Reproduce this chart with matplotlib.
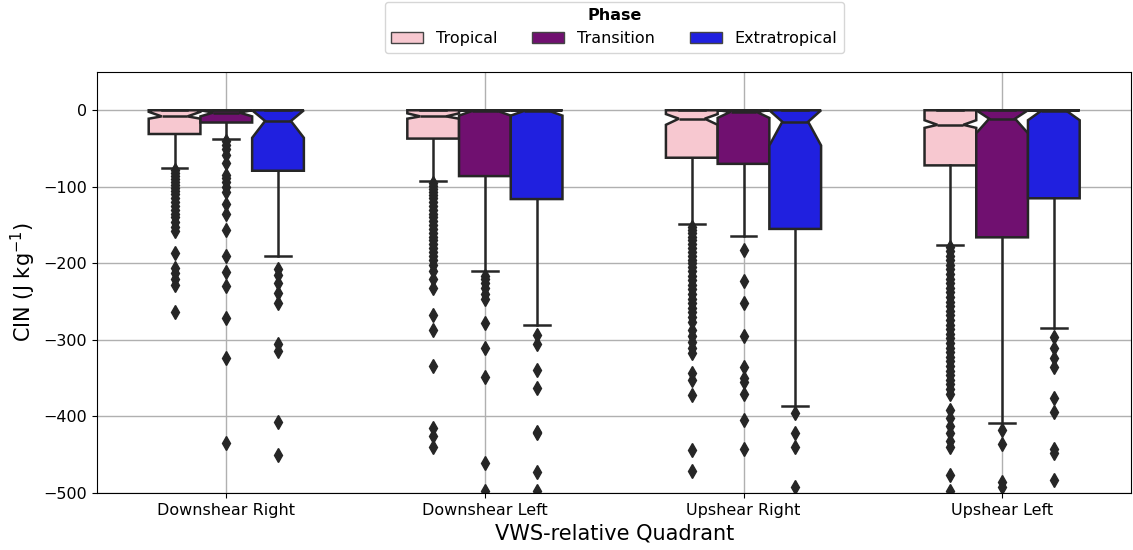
import matplotlib.pyplot as plt

# catégories et phases
quadrants = ['Downshear Right', 'Downshear Left', 'Upshear Right', 'Upshear Left']
phases = ['Tropical', 'Transition', 'Extratropical']
colors = ['#F7C8D0', '#701070', '#2020DF']

# statistiques : [quadrant][phase]
med = [[-8, -3, -14], [-8, -1, -1], [-11, -2, -15], [-19, -11, -1]]
q1 = [[-31, -16, -79], [-37, -86, -116], [-62, -70, -155], [-72, -166, -115]]
q3 = [[0, 0, 0], [0, 0, 0], [0, 0, 0], [0, 0, 0]]
ci_lo = [[-11, -8, -36], [-11, -7, -7], [-19, -10, -46], [-23, -30, -13]]
ci_hi = [[-2, 0, 0], [-4, 0, 0], [-5, 0, 0], [-13, 0, 0]]
whis_lo = [[-75, -37, -191], [-93, -210, -280], [-149, -164, -386], [-176, -408, -285]]
whis_hi = [[0, 0, 0], [0, 0, 0], [0, 0, 0], [0, 0, 0]]

fliers = [
    [[-78, -82, -86, -90, -94, -98, -102, -106, -110, -115, -120, -125, -130, -135,
      -140, -146, -152, -158, -187, -206, -212, -220, -228, -264],
     [-40, -46, -50, -58, -69, -85, -89, -94, -100, -107, -122, -135, -157, -191,
      -211, -229, -271, -324, -435],
     [-207, -215, -226, -239, -252, -305, -315, -407, -450]],
    [[-95, -99, -103, -107, -111, -115, -120, -125, -130, -135, -140, -145, -150,
      -155, -160, -165, -170, -175, -180, -185, -190, -196, -202, -210, -220, -232,
      -268, -287, -334, -415, -426, -440],
     [-216, -220, -225, -232, -240, -246, -278, -311, -348, -461, -498],
     [-294, -305, -339, -363, -420, -422, -472, -498]],
    [[-152, -156, -160, -165, -170, -175, -180, -185, -190, -195, -200, -205, -210,
      -216, -222, -228, -234, -240, -246, -252, -258, -264, -270, -276, -287, -295,
      -303, -310, -317, -343, -352, -372, -444, -471],
     [-183, -223, -252, -295, -336, -350, -355, -370, -405, -442],
     [-396, -421, -440, -492]],
    [[-178, -184, -190, -196, -202, -208, -214, -220, -226, -232, -238, -244, -250,
      -256, -262, -268, -274, -280, -286, -292, -298, -304, -310, -316, -322, -328,
      -334, -340, -346, -352, -358, -364, -370, -392, -402, -412, -422, -432, -440,
      -477, -498],
     [-418, -436, -485, -492],
     [-296, -311, -324, -335, -376, -394, -442, -448, -483]],
]

fig = plt.figure(figsize=(11.33, 5.5), dpi=100)
ax = fig.add_axes([0.0856, 0.1036, 0.913, 0.7655])

line_col = '#262626'
offsets = [-0.2, 0.0, 0.2]

for i in range(len(quadrants)):
    for j in range(len(phases)):
        stats = [{
            'med': med[i][j], 'q1': q1[i][j], 'q3': q3[i][j],
            'cilo': ci_lo[i][j], 'cihi': ci_hi[i][j],
            'whislo': whis_lo[i][j], 'whishi': whis_hi[i][j],
            'fliers': fliers[i][j],
        }]
        ax.bxp(stats, positions=[i + offsets[j]], widths=0.2, capwidths=0.1,
               shownotches=True, patch_artist=True, manage_ticks=False,
               boxprops=dict(facecolor=colors[j], edgecolor=line_col, linewidth=1.8),
               medianprops=dict(color=line_col, linewidth=1.8),
               whiskerprops=dict(color=line_col, linewidth=1.8),
               capprops=dict(color=line_col, linewidth=1.8),
               flierprops=dict(marker='d', markerfacecolor=line_col,
                               markeredgecolor=line_col, markersize=7.5))

ax.set_xlim(-0.5, 3.5)
ax.set_ylim(-500, 50)
ax.set_xticks(range(len(quadrants)))
ax.set_xticklabels(quadrants, fontsize=11.5)
ax.set_yticks([0, -100, -200, -300, -400, -500])
ax.tick_params(axis='y', labelsize=11.5)
ax.grid(True, color='#b0b0b0', linewidth=1)
ax.set_xlabel('VWS-relative Quadrant', fontsize=15)
ax.set_ylabel('CIN (J kg$^{-1}$)', fontsize=15)

handles = [plt.Rectangle((0, 0), 1, 1, facecolor=c, edgecolor='#444444') for c in colors]
leg = ax.legend(handles, phases, title='Phase', ncol=3, loc='upper center',
                bbox_to_anchor=(0.5, 1.185), fontsize=11.5, title_fontsize=11.5,
                columnspacing=2.2)
leg.get_title().set_fontweight('bold')

plt.savefig('out.png', dpi=100)
